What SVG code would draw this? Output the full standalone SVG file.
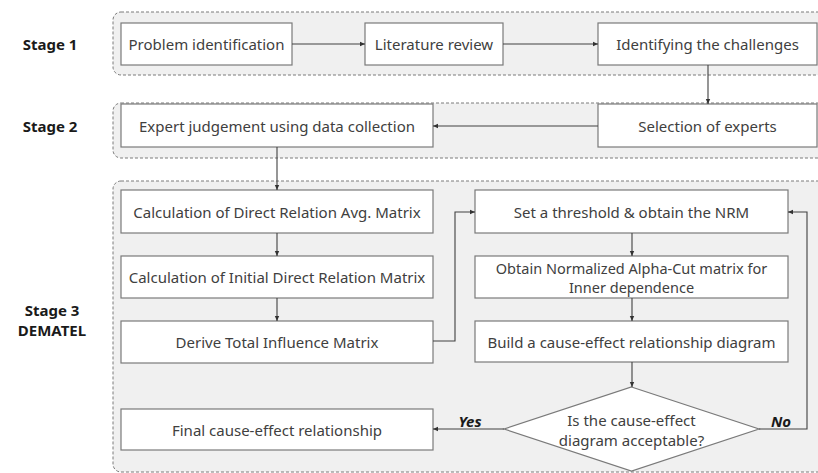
<svg xmlns="http://www.w3.org/2000/svg" width="818" height="473" viewBox="0 0 818 473">
<defs>
<marker id="arr" markerWidth="6" markerHeight="6" refX="5" refY="3" orient="auto" markerUnits="userSpaceOnUse">
<path d="M0,0.8 L5,3 L0,5.2 z" fill="#333"/>
</marker>
<style>
.stage{fill:#f0f0f0;stroke:#7a7a7a;stroke-width:1;stroke-dasharray:3 2}
.box{fill:#fff;stroke:#7a7a7a;stroke-width:1.2}
.t{font-family:"Noto Sans","Noto Sans CJK SC",sans-serif;font-size:15px;fill:#404040;text-anchor:middle;dominant-baseline:central}
.lbl{font-family:"Noto Sans","Noto Sans CJK SC",sans-serif;font-size:15px;font-weight:bold;fill:#1a1a1a;text-anchor:middle;dominant-baseline:central}
.yn{font-family:"Noto Sans","Noto Sans CJK SC",sans-serif;font-size:15px;font-weight:bold;font-style:italic;fill:#1a1a1a;text-anchor:middle;dominant-baseline:central}
.c{fill:none;stroke:#404040;stroke-width:1.1}
</style>
</defs>
<rect width="818" height="473" fill="#fff"/>
<g id="stages">
<rect class="stage" x="113" y="12" width="720" height="63" rx="8"/>
<rect class="stage" x="113" y="103" width="720" height="55" rx="8"/>
<rect class="stage" x="113" y="181" width="720" height="291" rx="8"/>
<text class="lbl" x="50" y="44">Stage 1</text>
<text class="lbl" x="50" y="126">Stage 2</text>
<text class="lbl" x="52" y="310">Stage 3</text>
<text class="lbl" x="52" y="330">DEMATEL</text>
</g>
<g id="n1"><rect class="box" x="121" y="23" width="171" height="42"/><text class="t" x="206.5" y="44">Problem identification</text></g>
<g id="n2"><rect class="box" x="365" y="23" width="138" height="42"/><text class="t" x="434" y="44">Literature review</text></g>
<g id="n3"><rect class="box" x="598" y="23" width="219" height="42"/><text class="t" x="707.5" y="44">Identifying the challenges</text></g>
<g id="n4"><rect class="box" x="598" y="104" width="219" height="43"/><text class="t" x="707.5" y="125.5">Selection of experts</text></g>
<g id="n5"><rect class="box" x="121" y="104" width="312" height="43"/><text class="t" x="277" y="125.5">Expert judgement using data collection</text></g>
<g id="n6"><rect class="box" x="121" y="190" width="312" height="43"/><text class="t" x="277" y="211.5">Calculation of Direct Relation Avg. Matrix</text></g>
<g id="n7"><rect class="box" x="121" y="256" width="312" height="42"/><text class="t" x="277" y="277">Calculation of Initial Direct Relation Matrix</text></g>
<g id="n8"><rect class="box" x="121" y="321" width="312" height="42"/><text class="t" x="277" y="342">Derive Total Influence Matrix</text></g>
<g id="n9"><rect class="box" x="121" y="409" width="312" height="41"/><text class="t" x="277" y="429.5">Final cause-effect relationship</text></g>
<g id="n10"><rect class="box" x="475" y="190" width="313" height="43"/><text class="t" x="631.5" y="211.5">Set a threshold &amp; obtain the NRM</text></g>
<g id="n11"><rect class="box" x="475" y="256" width="313" height="42"/><text class="t" x="631.5" y="267.5" style="font-size:14.5px">Obtain Normalized Alpha-Cut matrix for</text><text class="t" x="631.5" y="286.5" style="font-size:14.5px">Inner dependence</text></g>
<g id="n12"><rect class="box" x="475" y="321" width="313" height="41"/><text class="t" x="631.5" y="341.5">Build a cause-effect relationship diagram</text></g>
<g id="n13"><polygon class="box" points="631.5,387 759,429 631.5,471 504,429"/><text class="t" x="631.5" y="420">Is the cause-effect</text><text class="t" x="631.5" y="440">diagram acceptable?</text></g>
<g id="connectors">
<line class="c" x1="292" y1="44" x2="365" y2="44" marker-end="url(#arr)"/>
<line class="c" x1="503" y1="44" x2="598" y2="44" marker-end="url(#arr)"/>
<line class="c" x1="708" y1="65" x2="708" y2="104" marker-end="url(#arr)"/>
<line class="c" x1="598" y1="126" x2="433" y2="126" marker-end="url(#arr)"/>
<line class="c" x1="277" y1="147" x2="277" y2="190" marker-end="url(#arr)"/>
<line class="c" x1="277" y1="233" x2="277" y2="256" marker-end="url(#arr)"/>
<line class="c" x1="277" y1="298" x2="277" y2="321" marker-end="url(#arr)"/>
<polyline class="c" points="433,341 455,341 455,212 475,212" marker-end="url(#arr)"/>
<line class="c" x1="632" y1="233" x2="632" y2="256" marker-end="url(#arr)"/>
<line class="c" x1="632" y1="298" x2="632" y2="321" marker-end="url(#arr)"/>
<line class="c" x1="632" y1="362" x2="632" y2="387" marker-end="url(#arr)"/>
<line class="c" x1="504" y1="429" x2="433" y2="429" marker-end="url(#arr)"/>
<polyline class="c" points="759,429 807,429 807,212 788,212" marker-end="url(#arr)"/>
<text class="yn" x="470" y="421">Yes</text>
<text class="yn" x="781" y="421">No</text>
</g>
</svg>
